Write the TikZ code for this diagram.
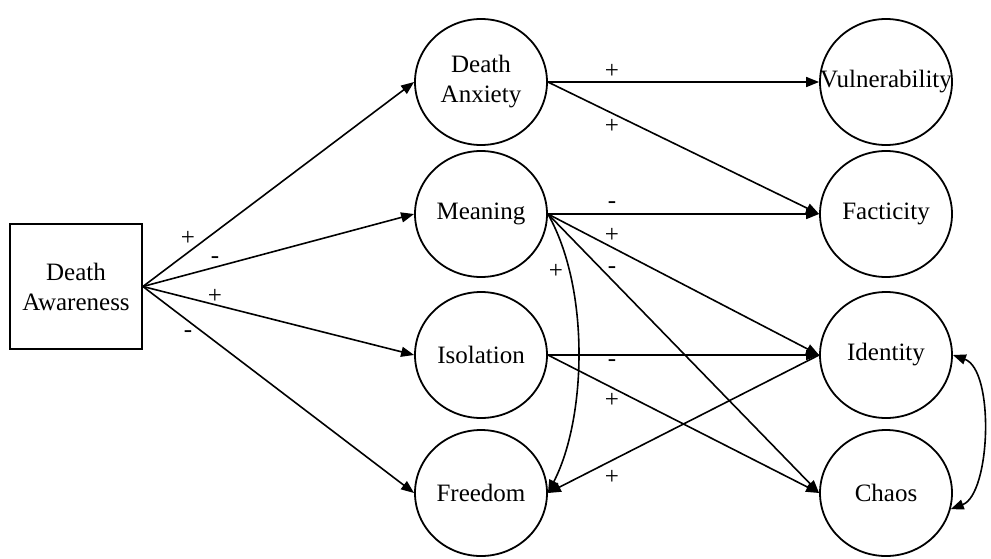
\documentclass[tikz,border=0pt]{standalone}
\usepackage{fontspec}
\setmainfont{Liberation Serif}
\usetikzlibrary{arrows.meta,shapes.geometric}
\begin{document}
\begin{tikzpicture}[x=1pt,y=-1pt,
  ell/.style={ellipse,draw,line width=1.8pt,minimum width=132pt,minimum height=126pt,inner sep=0pt},
  ttl/.style={font=\fontsize{25}{30}\selectfont,align=center,inner sep=0pt},
  sgn/.style={font=\fontsize{25}{28}\selectfont,inner sep=0pt},
  tip/.tip={Triangle[length=13pt,width=10pt]},
  arr/.style={line width=1.6pt,-tip},
  darr/.style={line width=1.6pt,tip-tip}
]
\useasboundingbox (0,0) rectangle (991,558);

% source box
\node[draw,line width=1.8pt,minimum width=132pt,minimum height=125pt,ttl] (DAw) at (76,286.5) {Death\\Awareness};

% middle column
\node[ell,label={[ttl]center:{Death\\Anxiety}}] (DA) at (481,82) {};
\node[ell,label={[ttl]center:Meaning}] (M) at (481,214) {};
\node[ell,label={[ttl]center:Isolation}] (I) at (481,355) {};
\node[ell,label={[ttl]center:Freedom}] (Fr) at (481,493) {};

% right column
\node[ell,label={[ttl]center:Vulnerability}] (V) at (886,82) {};
\node[ell,label={[ttl]center:Facticity}] (F) at (886,214) {};
\node[ell,label={[ttl]center:Identity}] (Id) at (886,355) {};
\node[ell,label={[ttl]center:Chaos}] (C) at (886,493) {};

% from Death Awareness
\draw[arr] (DAw.east) -- (DA.west);
\draw[arr] (DAw.east) -- (M.west);
\draw[arr] (DAw.east) -- (I.west);
\draw[arr] (DAw.east) -- (Fr.west);

% middle to right
\draw[arr] (DA.east) -- (V.west);
\draw[arr] (DA.east) -- (F.west);
\draw[arr] (M.east) -- (F.west);
\draw[arr] (M.east) -- (Id.west);
\draw[arr] (M.east) -- (C.west);
\draw[arr] (M.east) .. controls +(43,76) and +(38,-73) .. (Fr.east);
\draw[arr] (I.east) -- (Id.west);
\draw[arr] (I.east) -- (C.west);
\draw[arr] (Id.west) -- (Fr.east);
\draw[darr] (Id.east) .. controls +(42,15) and +(40,-15) .. (C.-14);

% signs
\node[sgn] (s1) at (188,238) {+};
\node[sgn] (s2) at (215,260) {-};
\node[sgn] (s3) at (215,296) {+};
\node[sgn] (s4) at (188,334) {-};
\node[sgn] (s5) at (612,71) {+};
\node[sgn] (s6) at (612,126) {+};
\node[sgn] (s7) at (612,205) {-};
\node[sgn] (s8) at (612,235) {+};
\node[sgn] (s9) at (612,270) {-};
\node[sgn] (s10) at (556,271) {+};
\node[sgn] (s11) at (612,363) {-};
\node[sgn] (s12) at (612,400) {+};
\node[sgn] (s13) at (612,477) {+};
\end{tikzpicture}
\end{document}
